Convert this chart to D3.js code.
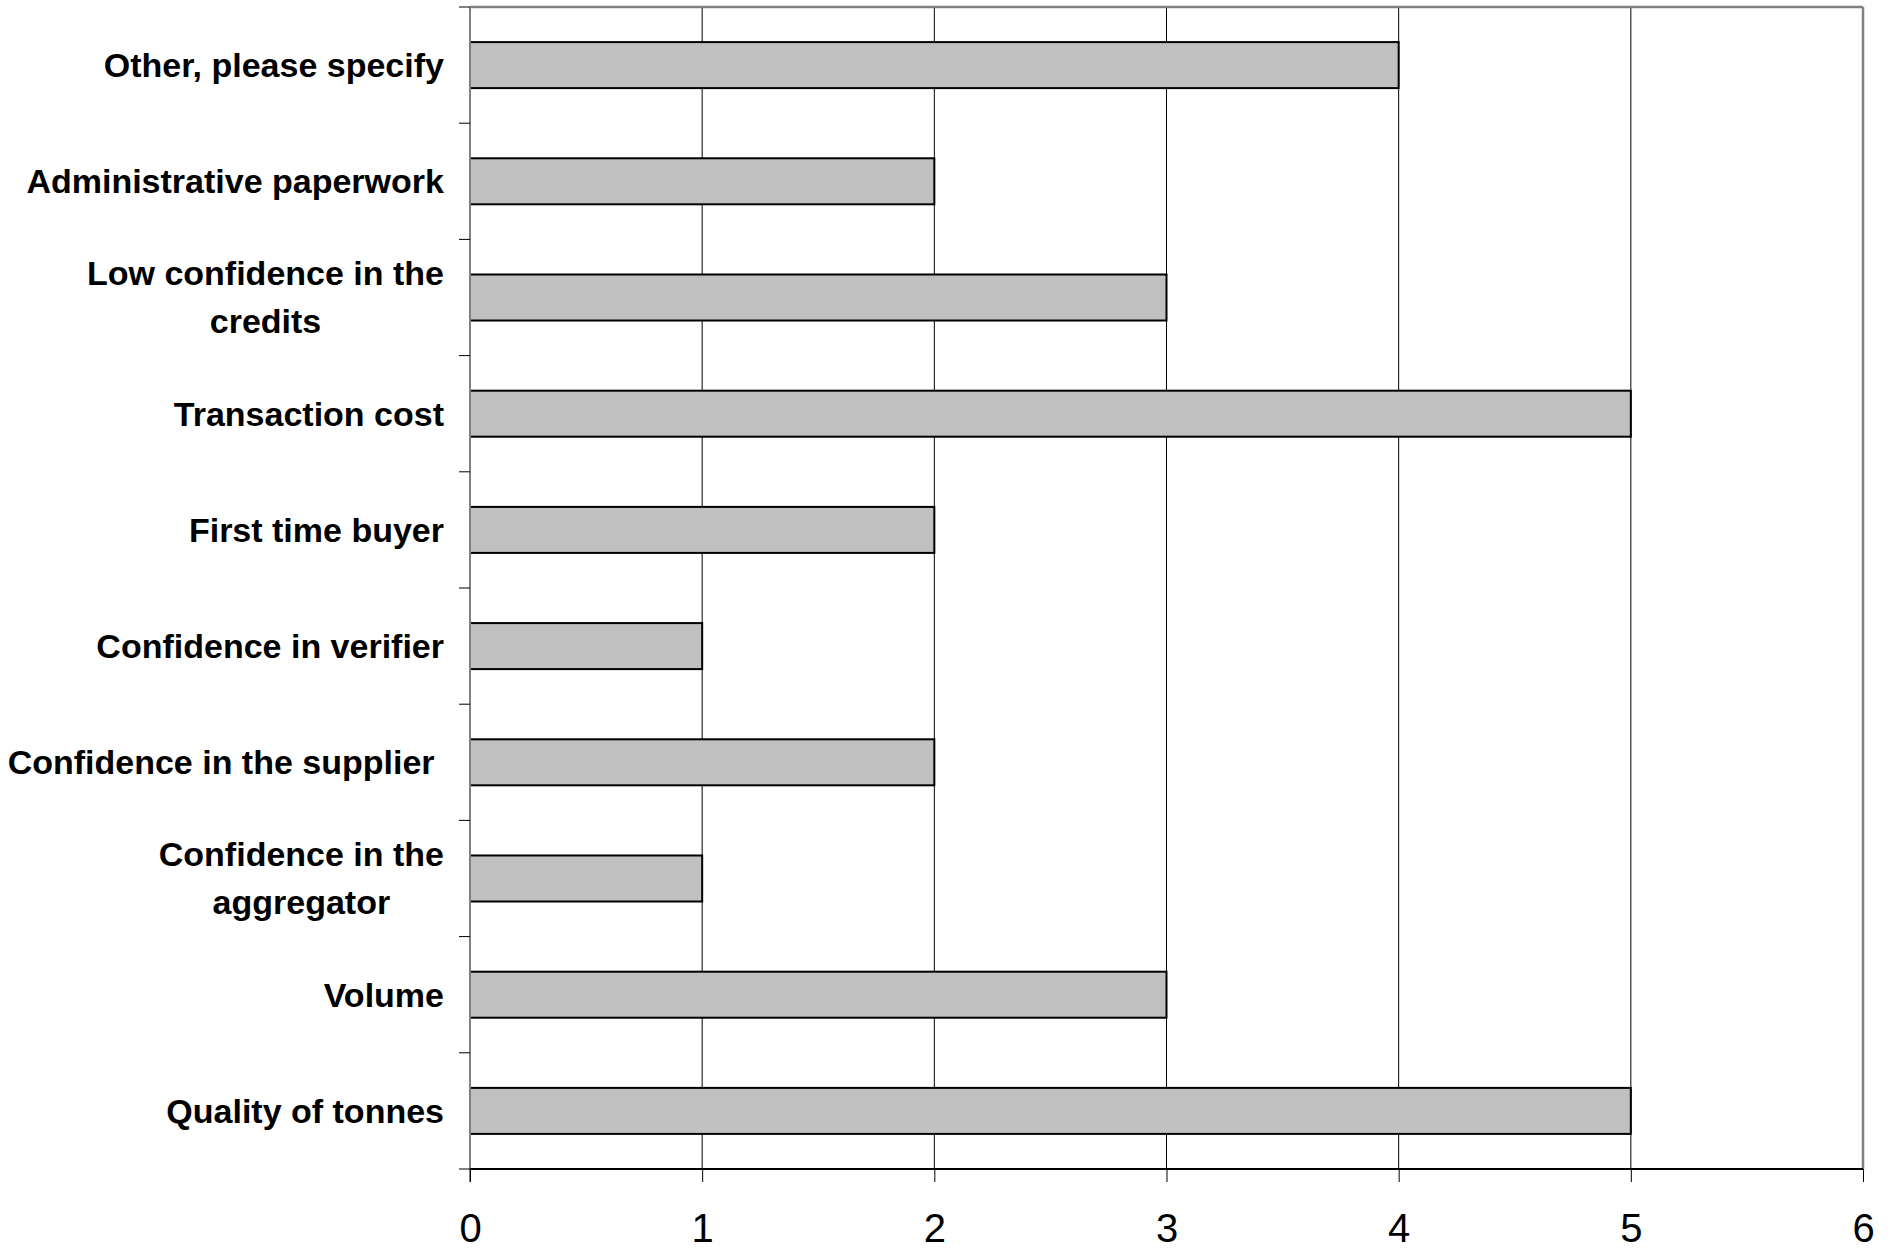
<!DOCTYPE html>
<html><head><meta charset="utf-8">
<script src="https://cdn.jsdelivr.net/npm/d3@7"></script>
<style>body{margin:0;background:#fff}svg{display:block}</style>
</head><body>
<svg id="c" width="1900" height="1253"></svg>
<script>
const categories = [
  ["Other, please specify"],
  ["Administrative paperwork"],
  ["Low confidence in the", "credits"],
  ["Transaction cost"],
  ["First time buyer"],
  ["Confidence in verifier"],
  ["Confidence in the supplier\u00a0"],
  ["Confidence in the", "aggregator"],
  ["Volume"],
  ["Quality of tonnes"]
];
const values = [4, 2, 3, 5, 2, 1, 2, 1, 3, 5];
const xTicks = [0, 1, 2, 3, 4, 5, 6];

const L = 470, R = 1863, T = 7, B = 1169;
const svg = d3.select("#c");
const ids = categories.map((d, i) => i);
const x = d3.scaleLinear().domain([0, 6]).range([L, R]);
const y = d3.scaleBand().domain(ids).range([T, B]).paddingInner(0.604).paddingOuter(0.302);

// gridlines
svg.append("g").selectAll("line").data(xTicks.filter(t => t > 0 && t < 6)).join("line")
  .attr("x1", d => x(d)).attr("x2", d => x(d)).attr("y1", T).attr("y2", B)
  .attr("stroke", "#000").attr("stroke-width", 1);

// border top & right
svg.append("line").attr("x1", L).attr("x2", R).attr("y1", T).attr("y2", T).attr("stroke", "#808080").attr("stroke-width", 2.5);
svg.append("line").attr("x1", R).attr("x2", R).attr("y1", T).attr("y2", B).attr("stroke", "#808080").attr("stroke-width", 2.5);

// bars
svg.append("g").selectAll("rect").data(values).join("rect")
  .attr("x", x(0)).attr("y", (d, i) => y(i))
  .attr("width", d => x(d) - x(0)).attr("height", y.bandwidth())
  .attr("fill", "#c0c0c0").attr("stroke", "#000").attr("stroke-width", 2);

// left axis
svg.append("line").attr("x1", L).attr("x2", L).attr("y1", T).attr("y2", B + 13).attr("stroke", "#808080").attr("stroke-width", 2);
const bounds = d3.range(categories.length + 1).map(i => T + (B - T) * i / categories.length);
svg.append("g").selectAll("line").data(bounds).join("line")
  .attr("x1", L - 11).attr("x2", L).attr("y1", d => d).attr("y2", d => d)
  .attr("stroke", "#000").attr("stroke-width", 1);

// bottom axis
const xAxis = d3.axisBottom(x).tickValues(xTicks).tickSize(13).tickFormat(d3.format("d"));
const gx = svg.append("g").attr("transform", `translate(0,${B})`).call(xAxis);
gx.select(".domain").attr("stroke", "#000").attr("stroke-width", 2).attr("d", `M${L},0H${R}`);
gx.selectAll(".tick line").attr("stroke", "#000").attr("stroke-width", 1);
gx.selectAll(".tick text").attr("font-family", "Liberation Sans, Arial, sans-serif").attr("font-size", 40)
  .attr("fill", "#000").attr("y", 73).attr("dy", 0);

// category labels
const labelRight = 444, fs = 34, lh = 48;
const lg = svg.append("g").attr("font-family", "Liberation Sans, Arial, sans-serif").attr("font-weight", "bold").attr("font-size", fs).attr("fill", "#000");
categories.forEach((lines, i) => {
  const cy = y(i) + y.bandwidth() / 2;
  const t = lg.append("text").attr("text-anchor", "middle");
  lines.forEach((ln, j) => {
    t.append("tspan").attr("x", 0).attr("y", cy + (j - (lines.length - 1) / 2) * lh).attr("dy", "0.35em").text(ln);
  });
  const w = t.node().getBBox().width;
  t.selectAll("tspan").attr("x", labelRight - w / 2);
});
</script>
</body></html>
